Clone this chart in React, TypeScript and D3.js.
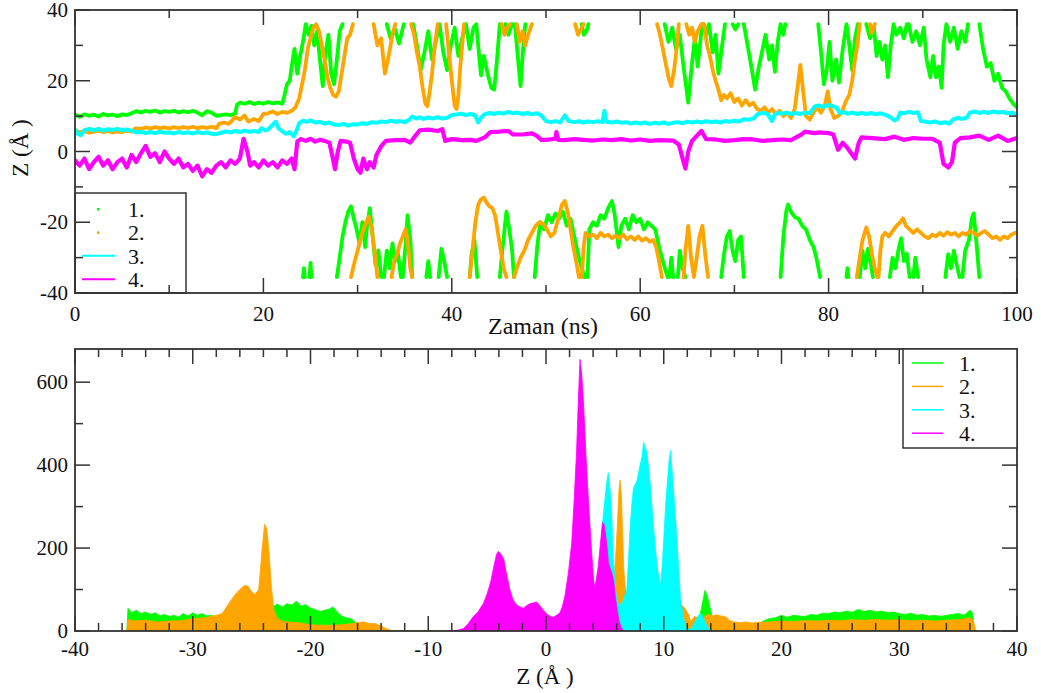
import React from "react";
import * as d3 from "d3";

type P = [number, number] | null;

const COLORS = ["#00ff00", "#ffa500", "#00ffff", "#ff00ff"];
const LABELS = ["1.", "2.", "3.", "4."];

const timeMajor = [0, 20, 40, 60, 80, 100];
const timeMinor = [10, 30, 50, 70, 90];
const zMajor = [-40, -20, 0, 20, 40];
const zMinor = [-30, -10, 10, 30];
const histXMajor = [-40, -30, -20, -10, 0, 10, 20, 30, 40];
const histYMajor = [0, 200, 400, 600];
const histYMinor = [100, 300, 500];

// Series 1 (green): time (ns), Z (Å); null = break (periodic wrap / gap)
const series1: P[] = [
  [0,10.5],[0.5,9.8],[1,10.5],[1.5,10.1],[2,10.4],[2.5,9.9],[3,10.6],[3.5,10.2],[4,10.4],[4.5,10.0],[5,10.5],[5.5,10.3],[6,10.8],[6.5,11.4],[7,11.0],[7.5,11.5],[8,11.2],[8.5,11.6],[9,11.0],[9.5,11.4],[10,11.2],[10.5,11.5],[11,11.0],[11.5,11.4],[12,11.1],[12.5,11.5],[13,11.0],[13.5,10.2],[14,11.4],[14.5,11.0],[15,10.1],[15.5,10.3],[16,10.5],[16.5,10.3],[17,10.7],[17.2,13.2],[17.5,13.8],[18,13.5],[18.5,14.0],[19,13.4],[19.5,13.8],[20,13.5],[20.5,14.0],[21,13.6],[21.5,13.9],[22,13.5],[22.2,15.5],[22.5,19],[22.8,20],[23,24],[23.3,29],[23.6,22],[23.9,27],[24.2,31],[24.5,36],[24.8,33],[25.1,35.5],[25.4,30],[25.7,34],[26,26],[26.3,18.5],[26.6,28],[26.9,33],[27.2,22],[27.5,19],[27.8,26],[28.1,34],[28.4,36],
  null,[33.1,36],[33.5,32],[34,34.5],[34.4,30.5],[34.9,36],
  null,[35.9,36],[36.3,30],[36.7,23],[37.1,28],[37.5,34],[37.9,26],[38.3,31],[38.7,36],[39.1,28],[39.5,23],[39.9,30],[40.3,35],[40.7,27],[41.1,32],[41.5,36],[41.9,29],[42.3,35],[42.6,36],[42.8,30],[43.1,21.5],[43.4,27],[43.8,22],[44.2,18],[44.5,17.5],[44.8,26],[45.1,36],
  null,[45.7,36],[46,33],[46.4,36],
  null,[46.7,36],[47,27],[47.3,18.5],[47.6,30],[47.8,36],
  null,[53.8,36],[54,33],[54.3,34],[54.5,36],
  null,[62.6,36],[63,31],[63.4,35],[63.8,29],[64.2,33],[64.6,24],[65.1,13.8],[65.5,25],[65.8,32],[66.1,24],[66.5,34],[66.7,36],[67,33],[67.3,36],[67.7,28],[68,33],[68.3,22],[68.7,30],[69,36],
  null,[69.8,36],[70.1,34.5],[70.4,36],
  null,[71,36],[71.4,30],[71.8,24],[72.2,17.5],[72.6,24],[73,29],[73.3,33],[73.7,26],[74,30],[74.3,22.5],[74.6,31],[74.9,36],[75.2,33],[75.4,36],
  null,[78.9,36],[79.2,28],[79.5,19],[79.8,23],[80.1,31],[80.4,20],[80.8,26],[81.1,19.5],[81.5,29],[81.9,36],[82.2,30],[82.5,23],[82.8,32],[83.1,36],
  null,[84,36],[84.4,32],[84.8,35],[85.1,27],[85.4,31],[85.7,26],[86,30],[86.3,21],[86.6,30],[86.9,36],[87.2,33],[87.6,35],[88,32],[88.3,36],
  null,[88.5,36],[88.9,31],[89.3,34],[89.7,30],[90.1,35],[90.4,26],[90.8,21],[91.1,27],[91.4,21],[91.7,24],[92,18],[92.2,30],[92.5,36],[92.9,31],[93.3,35],[93.7,29],[94.1,34],[94.5,31],[94.8,36],
  null,[96,36],[96.4,29],[96.8,24],[97.2,25],[97.6,20],[98,22],[98.4,18],[98.8,17],[99.2,15],[99.6,13.5],[100,12.5],
  null,[24.2,-35.5],[24.3,-33],[24.4,-35.5],
  null,[24.9,-35.5],[25,-31.5],[25.1,-35.5],
  null,[27.8,-35.5],[28.1,-30],[28.4,-24],[28.7,-20],[29,-17],[29.3,-15.5],[29.6,-19],[29.9,-22],[30.2,-26],[30.5,-20],[30.8,-27],[31,-21],[31.3,-16],[31.6,-24],[31.9,-32],[32.2,-28],[32.5,-35.5],
  null,[32.8,-35.5],[33.1,-28],[33.4,-33],[33.7,-26],[34,-31],[34.3,-29],[34.6,-35.5],
  null,[34.8,-35.5],[35.1,-26],[35.3,-18],[35.6,-25],[35.8,-35.5],
  null,[37.3,-35.5],[37.5,-31],[37.7,-35.5],
  null,[38.6,-35.5],[38.9,-27.5],[39.2,-31],[39.5,-35.5],
  null,[41.9,-35.5],[42.1,-29],[42.4,-25],[42.7,-35.5],
  null,[45.1,-35.5],[45.4,-27],[45.8,-17],[46.1,-22],[46.4,-28],[46.6,-35.5],
  null,[48.8,-35.5],[49.1,-26],[49.4,-20],[49.8,-22],[50.2,-18],[50.6,-20],[51,-17.5],[51.4,-19],[51.8,-17],[52.2,-21],[52.6,-19],[53,-24],[53.4,-29],[53.8,-33],[54.1,-35.5],
  null,[54.4,-35.5],[54.6,-22],[55,-20],[55.4,-21],[55.8,-18],[56.2,-19],[56.6,-16],[57,-14],[57.3,-18],[57.7,-27],[58,-21],[58.4,-19],[58.8,-22],[59.2,-18],[59.6,-20],[60,-19],[60.4,-22],[60.8,-20],[61.2,-21],[61.6,-22],[62,-27],[62.4,-31],[62.9,-35.5],
  null,[63.1,-35.5],[63.3,-30],[63.5,-35.5],
  null,[64,-35.5],[64.2,-28],[64.5,-33],[64.8,-35.5],
  null,[68.6,-35.5],[68.9,-29],[69.2,-24],[69.5,-22.5],[69.8,-28],[70.1,-31],[70.4,-25],[70.7,-24],[71,-35.5],
  null,[74.9,-35.5],[75.2,-24],[75.5,-17],[75.7,-15],[76,-17],[76.4,-18.5],[76.8,-19],[77.2,-21],[77.6,-22],[78,-25],[78.4,-27],[78.7,-30],[79.1,-35.5],
  null,[81.9,-35.5],[82,-33],[82.1,-35.5],
  null,[83.3,-35.5],[83.6,-28],[83.9,-33],[84.2,-27.5],[84.5,-32],[84.7,-35.5],
  null,[86.5,-35.5],[86.8,-30],[87.1,-33],[87.4,-28],[87.7,-24.5],[88,-31],[88.3,-29],[88.6,-35.5],
  null,[89,-35.5],[89.2,-30],[89.5,-35.5],
  null,[92.4,-35.5],[92.7,-29],[93,-33],[93.3,-28],[93.6,-32],[93.9,-35.5],
  null,[94.2,-35.5],[94.5,-28],[94.9,-25],[95.2,-19],[95.4,-17.5],[95.7,-26],[96,-35.5],
];

// Series 2 (orange)
const series2: P[] = [
  [0,6.0],[0.5,5.4],[1,5.8],[1.5,5.3],[2,5.6],[2.5,5.9],[3,5.5],[3.5,5.8],[4,5.4],[4.5,5.7],[5,5.5],[5.5,5.9],[6,5.6],[6.4,6.5],[7,6.4],[7.5,6.8],[8,6.5],[8.5,6.9],[9,6.6],[9.5,6.8],[10,6.5],[10.5,6.9],[11,6.6],[11.5,6.9],[12,6.7],[12.5,7.0],[13,6.6],[13.5,6.9],[14,6.7],[14.5,7.0],[15,6.6],[15.3,7.8],[15.8,8.2],[16.3,7.8],[16.6,8.5],[17,9.8],[17.5,9.0],[18,10.2],[18.4,8.5],[19,9.2],[19.5,8.6],[20,10.6],[20.5,10.8],[21,11.3],[21.5,10.6],[22,11.2],[22.5,10.9],[23,11.5],[23.4,12.5],[23.8,15],[24.1,19],[24.4,23],[24.7,29],[25,32],[25.3,35],[25.6,36],[25.9,34],[26.2,30],[26.5,26],[26.8,21],[27.1,18],[27.4,16],[27.7,15.5],[28,17],[28.3,22],[28.6,27],[28.9,32],[29.2,33],[29.5,36],
  null,[31.7,36],[32.1,30],[32.5,32],[32.9,22],[33.3,27],[33.7,33],[34,36],
  null,[35.7,36],[36,33],[36.3,28],[36.6,24],[36.9,18],[37.2,13.5],[37.4,12.8],[37.6,16],[37.9,22],[38.2,30],[38.5,36],
  null,[39.4,36],[39.7,28],[40,20],[40.3,13],[40.5,12],[40.7,16],[40.9,24],[41.1,30],[41.3,36],
  null,[45.3,36],[45.6,33],[45.9,35],[46.2,36],
  null,[46.9,36],[47.2,31],[47.5,34],[47.8,30],[48.1,33],[48.5,36],
  null,[53.1,36],[53.4,33],[53.8,35],[54,36],
  null,[61.8,36],[62.1,33],[62.4,29],[62.7,25],[63,21],[63.3,18.5],[63.6,23],[63.9,30],[64.1,36],
  null,[64.9,36],[65.2,33],[65.5,35],[65.8,31],[66.1,34],[66.5,36],[66.8,36],[67.1,30],[67.4,27],[67.7,23],[68,20],[68.3,17.5],[68.6,14.5],[68.9,16],[69.2,15],[69.6,16.5],[70,14],[70.4,15],[70.8,13],[71.2,14.5],[71.6,13],[72,13.8],[72.4,12],[72.8,11.5],[73.2,12.5],[73.6,11],[74,12],[74.4,10.5],[74.8,11.5],[75.2,10],[75.6,11],[76,9.5],[76.4,12],[76.7,18],[77,24.5],[77.3,17],[77.6,10],[78,9],[78.4,11],[78.8,12.5],[79.2,11],[79.6,13],[79.9,17],[80.2,12],[80.6,9.5],[81,10],[81.4,11],[81.8,14],[82.2,16],[82.5,20],[82.8,26],[83.1,31],[83.3,36],
  null,[84.4,36],[84.6,33.5],[84.9,36],
  null,[29.3,-35.5],[29.7,-31],[30.1,-27],[30.5,-23],[30.9,-20],[31.2,-18.5],[31.5,-22],[31.8,-28],[32.1,-35.5],
  null,[33.6,-35.5],[33.9,-31],[34.2,-29],[34.5,-26],[34.8,-24],[35.1,-22],[35.3,-25],[35.6,-33],[35.8,-35.5],
  null,[41.9,-35.5],[42.2,-28],[42.5,-20],[42.8,-15],[43.1,-13.5],[43.4,-13],[43.7,-14.5],[44,-15.5],[44.3,-16],[44.6,-18],[44.9,-23],[45.2,-28],[45.5,-33],[45.8,-35.5],
  null,[46.6,-35.5],[46.9,-33],[47.3,-30],[47.7,-28],[48.1,-25],[48.5,-23],[48.9,-21],[49.3,-20],[49.7,-20.5],[50.1,-22],[50.5,-24],[50.9,-23],[51.3,-19],[51.7,-15],[52,-14],[52.3,-17],[52.6,-22],[52.9,-27],[53.2,-31],[53.5,-35.5],
  null,[53.8,-35.5],[54,-27],[54.2,-23],[54.6,-24],[55,-23.5],[55.4,-24.5],[55.8,-23],[56.2,-24],[56.6,-23.5],[57,-24.5],[57.4,-23.8],[57.8,-24.5],[58.2,-23.5],[58.6,-24.8],[59,-24],[59.4,-25],[59.8,-24],[60.2,-25.2],[60.6,-24.5],[61,-25.5],[61.4,-25],[61.7,-27],[62,-31],[62.3,-35.5],
  null,[64.6,-35.5],[64.8,-28],[65.1,-21],[65.4,-30],[65.7,-35.5],[66,-30],[66.3,-24],[66.6,-21],[66.9,-29],[67.2,-35.5],
  null,[83,-35.5],[83.3,-30],[83.6,-25],[84,-21.5],[84.3,-24],[84.6,-29],[84.9,-33],[85.2,-35.5],
  null,[85.3,-35.5],[85.5,-28],[85.7,-24],[86,-23],[86.4,-24],[86.8,-22.5],[87.2,-21],[87.6,-20],[87.9,-18.9],[88.2,-21],[88.6,-22],[89,-23],[89.4,-22],[89.8,-23],[90.2,-24],[90.6,-24.5],[91,-23.5],[91.4,-24],[91.8,-23],[92.2,-23.8],[92.6,-22.8],[93,-23.5],[93.4,-23],[93.8,-24],[94.2,-23],[94.6,-23.5],[95,-22.5],[95.4,-23],[95.8,-23.8],[96.2,-23],[96.6,-22.5],[97,-23.5],[97.4,-24.5],[97.8,-24],[98.2,-25],[98.6,-24],[99,-24.5],[99.4,-23.5],[99.8,-23],[100,-23.2],
];

// Series 3 (cyan)
const series3: P[] = [
  [0,6.2],[0.3,5.0],[0.6,4.6],[1,6.0],[1.5,6.4],[2,6.0],[2.5,6.4],[3,5.9],[3.5,6.3],[4,6.1],[4.5,6.4],[5,6.0],[5.5,6.2],[6,5.9],[6.5,5.4],[7,5.6],[7.5,5.2],[8,5.5],[8.5,5.2],[9,5.6],[9.5,5.3],[10,5.4],[10.5,5.1],[11,5.5],[11.5,5.2],[12,5.4],[12.5,5.1],[13,5.5],[13.5,5.2],[14,5.4],[14.5,5.0],[15,4.9],[15.5,5.3],[16,5.7],[16.5,5.4],[17,5.8],[17.5,5.5],[18,5.9],[18.5,5.6],[19,5.8],[19.5,5.5],[19.8,6.6],[20.2,5.9],[20.6,6.5],[21,7.6],[21.3,8.4],[21.6,6.6],[22,5.7],[22.4,5.0],[22.8,5.5],[23.2,4.3],[23.5,5.8],[23.8,8.0],[24.2,8.7],[24.6,8.4],[25,8.8],[25.5,8.2],[26,8.4],[26.5,7.9],[27,8.2],[27.5,7.6],[28,7.5],[28.5,7.8],[29,7.3],[29.5,7.7],[30,7.6],[30.5,8.0],[31,7.8],[31.5,8.3],[32,8.1],[32.5,8.5],[33,8.3],[33.5,8.7],[34,8.4],[34.5,8.6],[35,8.3],[35.5,9.0],[35.8,9.9],[36.2,9.3],[36.6,9.7],[37,9.2],[37.5,9.6],[38,9.3],[38.5,9.7],[39,9.3],[39.5,9.5],[40,10.3],[40.5,10.5],[41,10.7],[41.5,10.3],[42,10.6],[42.5,10.2],[42.8,8.2],[43.1,9.5],[43.4,10.4],[44,10.9],[44.5,10.6],[45,11.0],[45.5,10.7],[46,11.2],[46.5,10.8],[47,11.0],[47.5,10.6],[48,10.9],[48.5,10.5],[49,10.8],[49.5,10.2],[50,8.6],[50.5,8.3],[51,8.6],[51.5,8.2],[52,10.2],[52.4,8.6],[53,8.3],[53.5,8.6],[54,8.2],[54.5,8.5],[55,8.3],[55.5,8.6],[56,8.3],[56.2,11.5],[56.4,8.4],[57,8.2],[57.5,8.5],[58,8.1],[58.5,8.3],[59,7.9],[59.5,8.2],[60,7.9],[60.5,8.2],[61,7.8],[61.5,8.1],[62,7.9],[62.5,8.2],[63,7.8],[63.5,8.1],[64,8.3],[64.5,8.0],[65,8.4],[65.5,8.2],[66,8.5],[66.5,8.2],[67,8.6],[67.5,8.3],[68,8.5],[68.5,8.2],[69,8.6],[69.5,8.4],[70,8.7],[70.5,8.5],[71,9.1],[71.5,9.0],[72,9.3],[72.5,10.6],[73,10.9],[73.5,10.7],[74,8.6],[74.3,10.5],[74.7,10.9],[75,10.7],[75.5,11.0],[76,10.6],[76.5,10.9],[77,10.6],[77.5,11.0],[78,10.8],[78.5,12.7],[79,13.0],[79.5,12.6],[80,13.2],[80.5,12.8],[80.9,12.2],[81.2,10.9],[81.7,11.1],[82,10.7],[82.5,11.0],[83,10.6],[83.5,10.9],[84,10.6],[84.5,10.9],[85,10.5],[85.5,10.8],[86,10.4],[86.5,9.8],[87,8.8],[87.3,9.2],[87.6,11.0],[88,10.8],[88.5,11.2],[89,10.9],[89.5,11.1],[89.8,8.6],[90.3,8.4],[90.8,8.2],[91.3,8.5],[91.8,8.0],[92.3,8.3],[92.8,7.9],[93.2,9.0],[93.7,9.5],[94.2,9.2],[94.7,9.6],[95,11.0],[95.5,11.3],[96,10.9],[96.5,11.2],[97,10.9],[97.5,11.3],[98,11.0],[98.5,11.2],[99,10.8],[99.5,11.0],[100,10.3],
];

// Series 4 (magenta)
const series4: P[] = [
  [0,-2.5],[0.5,-4],[1,-2],[1.5,-5],[2,-3],[2.5,-1.5],[3,-4],[3.5,-2.5],[4,-5],[4.5,-3],[5,-2],[5.5,-4.5],[6,-1],[6.5,-3],[7,-0.5],[7.5,1.6],[8,-1.5],[8.5,-0.5],[9,-3],[9.5,0],[10,-2],[10.5,-3.5],[11,-2],[11.5,-4.5],[12,-3.5],[12.5,-5.5],[13,-4],[13.5,-7],[14,-5],[14.5,-6],[15,-4],[15.5,-3],[16,-4.5],[16.5,-2.5],[17,-3.5],[17.5,-2],[17.9,3.6],[18.3,0],[18.6,-4],[19,-3],[19.5,-4.5],[20,-2.5],[20.5,-4],[21,-3],[21.5,-4.5],[22,-2.5],[22.5,-3.5],[23,-2],[23.3,-5],[23.6,2.8],[24,3.5],[24.5,3],[25,3.6],[25.5,2.8],[26,3.3],[26.5,3.0],[27,2.5],[27.3,-1],[27.6,-5],[27.9,0],[28.2,3],[28.8,2.8],[29.2,2.5],[29.6,-2],[30,-5],[30.3,-6],[30.6,-2],[31,-5],[31.3,-3],[31.7,-4.5],[32,-1],[32.5,1.5],[33,3],[34,3.2],[35,3.3],[35.6,2.5],[36,4],[36.6,6],[37.5,6.2],[38.5,5.8],[39,6.3],[39.3,3],[40,3.5],[41,3.2],[42,3.3],[42.6,3.0],[43.5,4],[44.1,5.5],[45,5.6],[46,5.8],[46.5,4.8],[47.5,4.8],[48.5,5.1],[49,4.5],[49.5,3.3],[50,3.3],[51,3.6],[51.1,5.5],[51.3,3.3],[52,3.2],[53,3.5],[54,3.3],[55,3.1],[56,3.4],[57,3.2],[58,3.5],[59,3.1],[60,3.4],[61,3.0],[62,3.2],[63.5,3.1],[64.1,2],[64.5,-2],[64.8,-4.8],[65.1,0],[65.5,3.0],[66.5,5.8],[67,3.5],[68,3.4],[69,3.0],[70,3.2],[71,3.5],[72,3.4],[73,3.0],[74,3.2],[75,3.4],[76,3.2],[77,4.6],[77.5,5.6],[78.5,5.2],[79,5.4],[80,5.2],[80.5,4.8],[81,0.5],[81.5,2.5],[82,1],[82.8,-2],[83.2,2.5],[83.5,4.0],[85,3.7],[86,3.5],[87,4.2],[88,3.3],[89,3.8],[90,3.6],[91,3.6],[91.8,2.5],[92.2,-3.5],[92.7,-4.5],[93.1,-3],[93.4,2.5],[94,3.8],[95,4.0],[96,4.5],[97,3.3],[98,4.5],[99,3.0],[100,3.8],
];

// Histograms: Z (Å), count
const hist1: [number, number][] = [
  [-35.6,0],[-35.5,55],[-35.2,44],[-34.8,50],[-34.4,42],[-34,46],[-33.6,40],[-33.2,44],[-32.8,37],[-32.4,40],[-32,35],[-31.6,38],[-31.2,34],[-30.8,42],[-30.4,36],[-30,44],[-29.6,38],[-29.2,42],[-28.8,36],[-28.4,38],[-28,33],[-27.5,30],[-27,28],[-26,25],[-25,25],[-24,25],[-23.4,40],[-23.1,60],[-22.8,65],[-22.4,58],[-22,66],[-21.6,62],[-21.2,72],[-20.8,60],[-20.4,64],[-20,55],[-19.6,52],[-19.2,47],[-18.8,50],[-18.4,53],[-18.1,58],[-17.8,48],[-17.4,37],[-17,32],[-16.6,30],[-16.2,22],[-15.8,15],[-15.4,10],[-15,6],[-14.5,3],[-14,0],
  [12.6,0],[12.9,20],[13.2,55],[13.5,98],[13.7,85],[13.9,60],[14.1,35],[14.4,10],[14.7,0],
  [17,5],[18,15],[18.5,25],[19,30],[19.5,32],[20,38],[20.5,33],[21,38],[21.5,36],[22,35],[22.5,40],[23,38],[23.5,43],[24,42],[24.5,46],[25,44],[25.5,48],[26,45],[26.5,52],[27,47],[27.5,50],[28,46],[28.5,48],[29,44],[29.5,46],[30,42],[30.5,40],[31,43],[31.5,38],[32,40],[32.5,36],[33,38],[33.5,35],[34,38],[34.5,40],[35,42],[35.5,38],[36,50],[36.2,45],[36.4,0],
];
const hist2: [number, number][] = [
  [-35.6,0],[-35.5,28],[-35,24],[-34,26],[-33,22],[-32,24],[-31,25],[-30,30],[-29,32],[-28.5,35],[-28,38],[-27.5,42],[-27.2,55],[-26.8,72],[-26.4,88],[-26,100],[-25.6,110],[-25.3,108],[-25,95],[-24.7,88],[-24.4,100],[-24.1,200],[-23.9,258],[-23.7,245],[-23.5,180],[-23.3,100],[-23.1,50],[-22.8,30],[-22.4,24],[-22,22],[-21,20],[-20,15],[-19,14],[-18,14],[-17,16],[-16,20],[-15.5,22],[-15,18],[-14.5,18],[-14,12],[-13.6,6],[-13.2,2],[-13,0],
  [4.5,0],[5.0,20],[5.4,60],[5.7,110],[5.9,170],[6.05,250],[6.2,340],[6.29,364],[6.4,330],[6.5,240],[6.6,150],[6.75,100],[7,80],[7.5,65],[8,60],[9,55],[10,58],[11,62],[11.4,66],[11.8,55],[12.1,40],[12.3,22],[12.6,35],[12.9,32],[13.3,30],[13.7,40],[14.1,37],[14.5,39],[14.9,36],[15.3,34],[15.6,25],[16,22],[16.5,20],[17,22],[17.5,19],[18,21],[19,22],[20,24],[21,23],[22,25],[23,24],[24,26],[25,25],[26,27],[27,26],[28,28],[29,26],[30,27],[31,25],[32,26],[33,24],[34,26],[35,27],[36,32],[36.3,24],[36.5,0],
];
const hist3: [number, number][] = [
  [3.8,0],[4.2,40],[4.5,130],[4.8,260],[5.0,316],[5.14,356],[5.29,382],[5.43,345],[5.57,291],[5.71,179],[5.86,114],[6.0,80],[6.2,60],[6.5,70],[6.86,100],[7.0,170],[7.14,249],[7.3,310],[7.43,345],[7.71,361],[8.0,401],[8.15,420],[8.29,455],[8.45,440],[8.57,432],[8.86,353],[9.14,249],[9.43,157],[9.71,108],[9.85,150],[10.0,221],[10.15,300],[10.29,353],[10.45,410],[10.57,435],[10.7,390],[10.86,329],[11.14,213],[11.43,76],[11.71,28],[12.0,4],[12.3,5],[12.6,20],[12.9,35],[13.14,43],[13.4,30],[13.7,10],[14,0],
];
const hist4: [number, number][] = [
  [-8.4,0],[-7.5,2],[-7,6],[-6.6,18],[-6.2,34],[-5.8,45],[-5.3,67],[-5,90],[-4.7,118],[-4.4,160],[-4.2,185],[-4.05,192],[-3.9,188],[-3.6,175],[-3.3,130],[-3.06,99],[-2.8,75],[-2.5,63],[-2.2,58],[-1.93,55],[-1.6,62],[-1.36,66],[-1.05,68],[-0.79,70],[-0.5,60],[-0.22,50],[0.1,40],[0.4,35],[0.62,33],[0.9,38],[1.19,44],[1.4,60],[1.61,85],[1.9,140],[2.18,211],[2.4,320],[2.6,436],[2.75,560],[2.89,655],[3.03,620],[3.17,557],[3.4,420],[3.6,316],[3.85,200],[4.05,120],[4.16,106],[4.3,130],[4.44,157],[4.65,220],[4.8,262],[4.95,255],[5.15,213],[5.3,165],[5.45,150],[5.58,141],[5.75,120],[5.9,80],[6.05,50],[6.2,25],[6.4,8],[6.6,0],
];

const FONT = '"Liberation Serif", "DejaVu Serif", "Times New Roman", serif';
const AX = "#333";
const TXT: React.CSSProperties = { fontFamily: FONT };

function range(a: number, b: number, s: number) {
  const r: number[] = [];
  for (let v = a; v <= b + 1e-9; v += s) r.push(+v.toFixed(6));
  return r;
}

export default function App() {
  const L = 75, R = 1017;
  const tT = 10, tB = 293;
  const bT = 349, bB = 631;
  const xT = d3.scaleLinear().domain([0, 100]).range([L, R]);
  const yT = d3.scaleLinear().domain([-40, 40]).range([tB, tT]);
  const xH = d3.scaleLinear().domain([-40, 40]).range([L, R]);
  const yH = d3.scaleLinear().domain([0, 680]).range([bB, bT]);

  const line = d3.line<P>()
    .defined((d) => d !== null)
    .x((d) => xT((d as [number, number])[0]))
    .y((d) => yT((d as [number, number])[1]));
  const area = d3.area<[number, number]>()
    .x((d) => xH(d[0]))
    .y0(yH(0))
    .y1((d) => yH(d[1]));

  const series = [series1, series2, series3, series4];
  const hists = [hist1, hist2, hist3, hist4];
  const widths = [3.8, 3.8, 4, 4.2];

  const MAJ = 15, MIN = 8;

  const frameTicks = (
    xs: d3.ScaleLinear<number, number>,
    ys: d3.ScaleLinear<number, number>,
    xMaj: number[], xMin: number[], yMaj: number[], yMin: number[],
    top: number, bottom: number
  ) => (
    <g stroke={AX} strokeWidth={1.5}>
      {xMaj.map((v) => (
        <g key={"xM" + v}>
          <line x1={xs(v)} x2={xs(v)} y1={bottom} y2={bottom - MAJ} />
          <line x1={xs(v)} x2={xs(v)} y1={top} y2={top + MAJ} />
        </g>
      ))}
      {xMin.map((v) => (
        <g key={"xm" + v}>
          <line x1={xs(v)} x2={xs(v)} y1={bottom} y2={bottom - MIN} />
          <line x1={xs(v)} x2={xs(v)} y1={top} y2={top + MIN} />
        </g>
      ))}
      {yMaj.map((v) => (
        <g key={"yM" + v}>
          <line x1={L} x2={L + MAJ} y1={ys(v)} y2={ys(v)} />
          <line x1={R} x2={R - MAJ} y1={ys(v)} y2={ys(v)} />
        </g>
      ))}
      {yMin.map((v) => (
        <g key={"ym" + v}>
          <line x1={L} x2={L + MIN} y1={ys(v)} y2={ys(v)} />
          <line x1={R} x2={R - MIN} y1={ys(v)} y2={ys(v)} />
        </g>
      ))}
    </g>
  );

  const histXMinor = range(-40, 40, 2).filter((v) => !histXMajor.includes(v));

  return (
    <div style={{ position: "absolute", left: 0, top: 0 }}>
      <svg width={1041} height={693} style={{ display: "block", background: "#fff", fontFamily: FONT }}>
        <defs>
          <clipPath id="clipTop"><rect x={L} y={tT} width={R - L} height={tB - tT} /></clipPath>
          <clipPath id="clipBot"><rect x={L} y={bT} width={R - L} height={bB - bT} /></clipPath>
        </defs>
        <rect x={0} y={0} width={1041} height={693} fill="#fff" />

        {/* ===== Top panel ===== */}
        <g clipPath="url(#clipTop)">
          {series.map((s, i) => (
            <path key={i} d={line(s) || ""} fill="none" stroke={COLORS[i]} strokeWidth={widths[i]} strokeLinejoin="round" strokeLinecap="round" />
          ))}
        </g>
        <rect x={L} y={193} width={111} height={tB - 193} fill="#fff" stroke={AX} strokeWidth={1.5} />
        {LABELS.map((lab, i) => {
          const cy = 209 + i * 23.4;
          return (
            <g key={lab}>
              {i < 2 ? (
                <rect x={97} y={cy - 1} width={2.5} height={2.5} fill={COLORS[i]} />
              ) : (
                <line x1={82} x2={115} y1={cy} y2={cy} stroke={COLORS[i]} strokeWidth={2} />
              )}
              <text x={128} y={cy + 8} fontSize={22} fill="#111" style={TXT}>{lab}</text>
            </g>
          );
        })}
        <rect x={L} y={tT} width={R - L} height={tB - tT} fill="none" stroke={AX} strokeWidth={1.8} />
        {frameTicks(xT, yT, timeMajor, timeMinor, zMajor, zMinor, tT, tB)}
        {zMajor.map((v) => (
          <text key={v} x={68} y={yT(v) + 7} textAnchor="end" fontSize={21} fill="#111" style={TXT}>{v}</text>
        ))}
        {timeMajor.map((v) => (
          <text key={v} x={xT(v)} y={321} textAnchor="middle" fontSize={21} fill="#111" style={TXT}>{v}</text>
        ))}
        <text x={543} y={334} textAnchor="middle" fontSize={24} fill="#111" style={TXT}>Zaman (ns)</text>
        <text transform={`translate(28,148) rotate(-90)`} textAnchor="middle" fontSize={23} fill="#111" style={TXT}>Z (Å )</text>

        {/* ===== Bottom panel ===== */}
        <g clipPath="url(#clipBot)">
          {hists.map((h, i) => (
            <path key={i} d={area(h) || ""} fill={COLORS[i]} stroke={COLORS[i]} strokeWidth={0.8} />
          ))}
        </g>
        <rect x={L} y={bT} width={R - L} height={bB - bT} fill="none" stroke={AX} strokeWidth={1.8} />
        {frameTicks(xH, yH, histXMajor, histXMinor, histYMajor, histYMinor, bT, bB)}
        <rect x={903} y={bT} width={R - 903} height={99} fill="#fff" stroke={AX} strokeWidth={1.5} />
        {LABELS.map((lab, i) => {
          const cy = 363 + i * 23.4;
          return (
            <g key={lab}>
              <line x1={912} x2={943} y1={cy} y2={cy} stroke={COLORS[i]} strokeWidth={1.5} />
              <text x={959} y={cy + 8} fontSize={22} fill="#111" style={TXT}>{lab}</text>
            </g>
          );
        })}
        {histYMajor.map((v) => (
          <text key={v} x={68} y={yH(v) + 7} textAnchor="end" fontSize={21} fill="#111" style={TXT}>{v}</text>
        ))}
        {histXMajor.map((v) => (
          <text key={v} x={xH(v)} y={656} textAnchor="middle" fontSize={21} fill="#111" style={TXT}>{v}</text>
        ))}
        <text x={545} y={684} textAnchor="middle" fontSize={23} fill="#111" style={TXT}>Z (Å )</text>
      </svg>
    </div>
  );
}
